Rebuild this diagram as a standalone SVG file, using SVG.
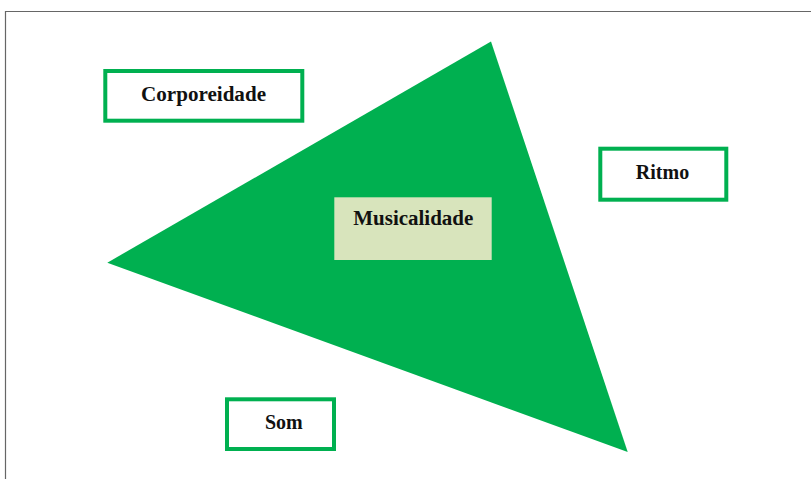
<svg xmlns="http://www.w3.org/2000/svg" width="811" height="479" viewBox="0 0 811 479">
<style>
.box{fill:#ffffff;stroke:#00b050;stroke-width:4}
.lbl{font-family:"Liberation Serif","Times New Roman",serif;font-weight:bold;font-size:20px;fill:#111111;text-anchor:middle}
</style>
<rect x="0" y="0" width="811" height="479" fill="#ffffff"/>
<path d="M5.5 479 V11.5 H811" fill="none" stroke="#666666" stroke-width="1.2"/>
<g id="triangle">
<polygon points="491,41.5 107.3,262.7 627.7,452" fill="#00b050"/>
</g>
<g id="musicalidade">
<rect x="334.3" y="197.3" width="157.4" height="62.7" fill="#d8e4bc"/>
<text class="lbl" x="413.3" y="225" textLength="120" lengthAdjust="spacingAndGlyphs">Musicalidade</text>
</g>
<g id="corporeidade">
<rect class="box" x="105.3" y="71" width="197" height="49.7"/>
<text class="lbl" x="203.5" y="101" textLength="125" lengthAdjust="spacingAndGlyphs">Corporeidade</text>
</g>
<g id="ritmo">
<rect class="box" x="600.3" y="148.7" width="126" height="51"/>
<text class="lbl" x="662.5" y="178.5">Ritmo</text>
</g>
<g id="som">
<rect class="box" x="227" y="399.3" width="107" height="49.7"/>
<text class="lbl" x="283.8" y="429">Som</text>
</g>
<g id="connectors"></g>
</svg>
